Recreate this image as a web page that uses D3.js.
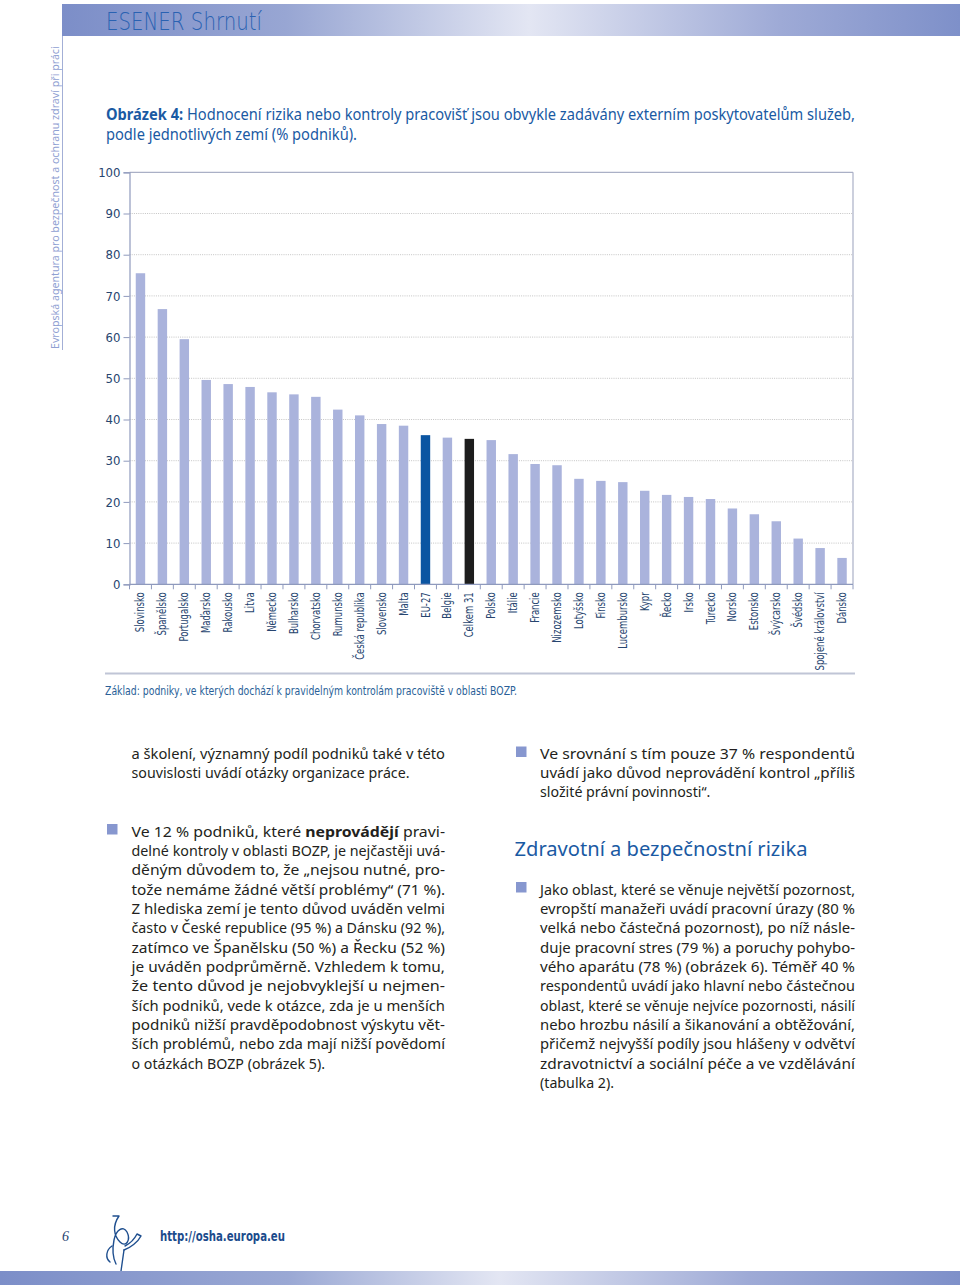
<!DOCTYPE html>
<html><head><meta charset="utf-8">
<script src="https://cdn.jsdelivr.net/npm/d3@7"></script>
<style>
html,body{margin:0;padding:0;background:#fff;}
svg{display:block;}
</style></head>
<body>
<svg id="page" width="960" height="1285"></svg>
<script>
// ---------- DATA ----------
const categories = ["Slovinsko","Španělsko","Portugalsko","Maďarsko","Rakousko","Litva","Německo","Bulharsko","Chorvatsko","Rumunsko","Česká republika","Slovensko","Malta","EU-27","Belgie","Celkem 31","Polsko","Itálie","Francie","Nizozemsko","Lotyšsko","Finsko","Lucembursko","Kypr","Řecko","Irsko","Turecko","Norsko","Estonsko","Švýcarsko","Švédsko","Spojené království","Dánsko"];
const values = [75.5,66.8,59.5,49.6,48.6,47.9,46.6,46.1,45.5,42.4,41.0,38.9,38.5,36.2,35.6,35.3,35.0,31.6,29.2,28.9,25.6,25.1,24.8,22.7,21.7,21.2,20.7,18.4,17.0,15.3,11.1,8.8,6.4];
const highlightEU = "EU-27";
const highlightTotal = "Celkem 31";
const yTicks = [0,10,20,30,40,50,60,70,80,90,100];

const headerText = "ESENER Shrnutí";
const sideText = "Evropská agentura pro bezpečnost a ochranu zdraví při práci";
const titleBold = "Obrázek 4:";
const titleLine1 = " Hodnocení rizika nebo kontroly pracovišť jsou obvykle zadávány externím poskytovatelům služeb,";
const titleLine2 = "podle jednotlivých zemí (% podniků).";
const baseNote = "Základ: podniky, ve kterých dochází k pravidelným kontrolám pracoviště v oblasti BOZP.";

const leftPara1 = ["a školení, významný podíl podniků také v této","souvislosti uvádí otázky organizace práce."];
const leftPara2 = [
 [["Ve 12 % podniků, které ",false],["neprovádějí",true],[" pravi-",false]],
 "delné kontroly v oblasti BOZP, je nejčastěji uvá-",
 "děným důvodem to, že „nejsou nutné, pro-",
 "tože nemáme žádné větší problémy“ (71 %).",
 "Z hlediska zemí je tento důvod uváděn velmi",
 "často v České republice (95 %) a Dánsku (92 %),",
 "zatímco ve Španělsku (50 %) a Řecku (52 %)",
 "je uváděn podprůměrně. Vzhledem k tomu,",
 "že tento důvod je nejobvyklejší u nejmen-",
 "ších podniků, vede k otázce, zda je u menších",
 "podniků nižší pravděpodobnost výskytu vět-",
 "ších problémů, nebo zda mají nižší povědomí",
 "o otázkách BOZP (obrázek 5)."];
const rightPara1 = ["Ve srovnání s tím pouze 37 % respondentů","uvádí jako důvod neprovádění kontrol „příliš","složité právní povinnosti“."];
const rightHeading = "Zdravotní a bezpečnostní rizika";
const rightPara2 = [
 "Jako oblast, které se věnuje největší pozornost,",
 "evropští manažeři uvádí pracovní úrazy (80 %",
 "velká nebo částečná pozornost), po níž násle-",
 "duje pracovní stres (79 %) a poruchy pohybo-",
 "vého aparátu (78 %) (obrázek 6). Téměř 40 %",
 "respondentů uvádí jako hlavní nebo částečnou",
 "oblast, které se věnuje nejvíce pozornosti, násilí",
 "nebo hrozbu násilí a šikanování a obtěžování,",
 "přičemž nejvyšší podíly jsou hlášeny v odvětví",
 "zdravotnictví a sociální péče a ve vzdělávání",
 "(tabulka 2)."];
const pageNumber = "6";
const footerUrl = "http://osha.europa.eu";

// ---------- STYLE ----------
const C = {
  bar:"#aab3dc", eu:"#0b55a2", total:"#1d1d1d",
  axis:"#8f9abd", frame:"#aab0c6", grid:"#c4c4c4",
  tick:"#27456f", title:"#1a5aa3", body:"#231f20",
  bullet:"#8797cf", side:"#8fa0d2", header:"#2a62b2"
};
const condensed = "'Liberation Sans Narrow','DejaVu Sans Condensed','Arial Narrow',sans-serif";
const bodyFont = "'Noto Sans','Open Sans',sans-serif";

const svg = d3.select("#page");
const defs = svg.append("defs");
const grad = defs.append("linearGradient").attr("id","band").attr("x1","0").attr("x2","1").attr("y1","0").attr("y2","0");
grad.append("stop").attr("offset","0%").attr("stop-color","#7c8ec8");
grad.append("stop").attr("offset","25%").attr("stop-color","#98a6d3");
grad.append("stop").attr("offset","52%").attr("stop-color","#e3e6f3");
grad.append("stop").attr("offset","80%").attr("stop-color","#9eaad6");
grad.append("stop").attr("offset","100%").attr("stop-color","#7e90c9");
const grad2 = defs.append("linearGradient").attr("id","band2").attr("x1","0").attr("x2","1").attr("y1","0").attr("y2","0");
grad2.append("stop").attr("offset","0%").attr("stop-color","#7c8ec8");
grad2.append("stop").attr("offset","30%").attr("stop-color","#9aa8d4");
grad2.append("stop").attr("offset","52%").attr("stop-color","#e3e6f3");
grad2.append("stop").attr("offset","78%").attr("stop-color","#9eaad6");
grad2.append("stop").attr("offset","100%").attr("stop-color","#7e90c9");

// header
svg.append("rect").attr("x",62).attr("y",4).attr("width",898).attr("height",32).attr("fill","url(#band)");
svg.append("text").attr("x",106).attr("y",29.5).attr("font-family","'DejaVu Sans',sans-serif").attr("font-weight",200).attr("font-size",25)
  .attr("fill",C.header).attr("textLength",156).attr("lengthAdjust","spacingAndGlyphs").text(headerText);
svg.append("line").attr("x1",62.5).attr("x2",62.5).attr("y1",36).attr("y2",350).attr("stroke","#a3afd6").attr("stroke-width",1);
const side = svg.append("text").attr("transform","translate(58.5,349) rotate(-90)").attr("font-family",bodyFont)
  .attr("font-size",13).attr("fill",C.side).text(sideText);
{ const w = side.node().getComputedTextLength(); side.attr("font-size", 13*303/w); }

// title
const t1 = svg.append("text").attr("x",106).attr("y",120).attr("font-family",bodyFont).attr("font-size",15.5)
  .attr("fill",C.title).attr("textLength",749).attr("lengthAdjust","spacingAndGlyphs");
t1.append("tspan").attr("font-weight","bold").text(titleBold);
t1.append("tspan").text(titleLine1);
svg.append("text").attr("x",106).attr("y",139.5).attr("font-family",bodyFont).attr("font-size",15.5)
  .attr("fill",C.title).attr("textLength",251).attr("lengthAdjust","spacingAndGlyphs").text(titleLine2);

// ---------- CHART ----------
const plot = {left:129.5, right:853, top:172.3, bottom:584.3};
const x = d3.scaleBand().domain(categories).range([plot.left, plot.right]).paddingInner(0.57).paddingOuter(0.285);
const y = d3.scaleLinear().domain([0,100]).range([plot.bottom, plot.top]);
const g = svg.append("g");

// gridlines
g.selectAll("line.grid").data(yTicks.filter(d=>d>0 && d<100)).join("line")
  .attr("x1",plot.left).attr("x2",plot.right).attr("y1",d=>y(d)).attr("y2",d=>y(d))
  .attr("stroke",C.grid).attr("stroke-width",1).attr("stroke-dasharray","1,1.2");
// frame top & right
g.append("line").attr("x1",plot.left).attr("x2",plot.right).attr("y1",y(100)).attr("y2",y(100)).attr("stroke",C.frame).attr("stroke-width",1.2);
g.append("line").attr("x1",plot.right).attr("x2",plot.right).attr("y1",y(100)).attr("y2",y(0)).attr("stroke",C.frame).attr("stroke-width",1.2);

// bars
g.selectAll("rect.bar").data(categories.map((c,i)=>({c,v:values[i]}))).join("rect")
  .attr("x",d=>x(d.c)).attr("width",x.bandwidth())
  .attr("y",d=>y(d.v)).attr("height",d=>y(0)-y(d.v))
  .attr("fill",d=>d.c===highlightEU?C.eu:(d.c===highlightTotal?C.total:C.bar));

// y axis
const yAxis = d3.axisLeft(y).tickValues(yTicks).tickSize(6).tickPadding(3).tickFormat(d3.format("d"));
const ya = g.append("g").attr("transform",`translate(${plot.left},0)`).call(yAxis);
ya.select(".domain").attr("stroke",C.axis).attr("stroke-width",1.2);
ya.selectAll(".tick line").attr("stroke",C.axis);
ya.selectAll(".tick text").attr("font-family",condensed).attr("font-size",13).attr("fill",C.tick);

// x axis: baseline + ticks at band boundaries
const step = x.step();
const bounds = d3.range(categories.length+1).map(i=>plot.left + i*step);
g.append("line").attr("x1",plot.left).attr("x2",plot.right).attr("y1",y(0)).attr("y2",y(0)).attr("stroke",C.axis).attr("stroke-width",1.2);
g.selectAll("line.xt").data(bounds).join("line")
  .attr("x1",d=>d).attr("x2",d=>d).attr("y1",y(0)).attr("y2",y(0)+5).attr("stroke",C.axis).attr("stroke-width",1);
const xl = g.selectAll("text.xl").data(categories).join("text")
  .attr("transform",d=>`translate(${x(d)+x.bandwidth()/2},${y(0)+8}) rotate(-90)`)
  .attr("text-anchor","end").attr("dy","0.35em")
  .attr("font-family",condensed).attr("font-size",11.5).attr("fill",C.tick).text(d=>d);
xl.each(function(){ const w=this.getComputedTextLength(); d3.select(this).attr("textLength",w*0.82).attr("lengthAdjust","spacingAndGlyphs"); });

// bottom rule + note
svg.append("line").attr("x1",105).attr("x2",855).attr("y1",673.5).attr("y2",673.5).attr("stroke","#c0c5d6").attr("stroke-width",2);
const note = svg.append("text").attr("x",105).attr("y",695).attr("font-family",condensed).attr("font-size",11.5)
  .attr("fill","#2a5f98").text(baseNote);
note.attr("textLength",412).attr("lengthAdjust","spacingAndGlyphs");

// ---------- BODY TEXT ----------
const lineH = 19.35;
function para(lines, x0, y0, width){
  lines.forEach((ln,i)=>{
    const t = svg.append("text").attr("x",x0).attr("y",y0+i*lineH).attr("font-family",bodyFont)
      .attr("font-size",14.5).attr("fill",C.body);
    if(Array.isArray(ln)) ln.forEach(([s,b])=>t.append("tspan").attr("font-weight",b?"bold":null).text(s));
    else t.text(ln);
    const w = t.node().getComputedTextLength();
    if(i < lines.length-1) t.attr("textLength",width).attr("lengthAdjust","spacingAndGlyphs");
    else t.attr("textLength",w*0.98).attr("lengthAdjust","spacingAndGlyphs");
  });
}
function bullet(x0,y0){ svg.append("rect").attr("x",x0).attr("y",y0).attr("width",10.5).attr("height",10.5).attr("fill",C.bullet); }

para(leftPara1, 131.5, 758.5, 313.5);
bullet(107,824); para(leftPara2, 131.5, 836.5, 313.5);
bullet(516,746.5); para(rightPara1, 540, 758.5, 315);
svg.append("text").attr("x",514.5).attr("y",856).attr("font-family",bodyFont).attr("font-size",20.5)
  .attr("fill",C.title).attr("textLength",293).attr("lengthAdjust","spacingAndGlyphs").text(rightHeading);
bullet(516,882); para(rightPara2, 540, 894.5, 315);

// ---------- FOOTER ----------
svg.append("text").attr("x",62).attr("y",1241).attr("font-family","'Liberation Serif',serif").attr("font-style","italic")
  .attr("font-size",14).attr("fill","#1e3f70").text(pageNumber);
const logo = svg.append("g").attr("fill","none").attr("stroke","#1f4f8f").attr("stroke-width",1.4).attr("stroke-linecap","round").attr("stroke-linejoin","round");
logo.append("path").attr("d","M113,1216 L119,1216 C112,1226 114,1236 120,1242 C126,1248 131,1240 127,1232 C123,1225 116,1230 114,1240 C112,1250 113,1258 116,1264");
logo.append("path").attr("d","M112,1246 C106,1250 105,1258 110,1262");
logo.append("path").attr("d","M124,1250 L121,1271");
logo.append("path").attr("d","M124,1250 C130,1248 138,1242 141,1236 L137,1234 C134,1240 129,1244 125,1246");
svg.append("text").attr("x",160).attr("y",1241).attr("font-family",condensed).attr("font-weight","bold")
  .attr("font-size",14.5).attr("fill","#1b4b8c").attr("textLength",125).attr("lengthAdjust","spacingAndGlyphs").text(footerUrl);
svg.append("rect").attr("x",0).attr("y",1271).attr("width",960).attr("height",14).attr("fill","url(#band2)");
</script>
</body></html>
